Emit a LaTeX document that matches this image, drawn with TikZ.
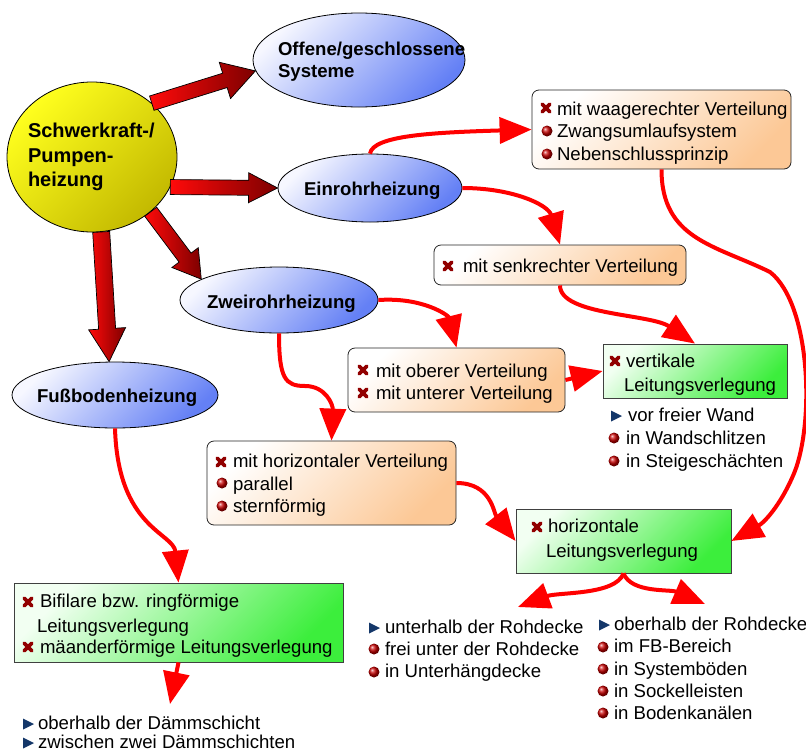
\documentclass[tikz,border=0pt]{standalone}
\usepackage{fontspec}
\setmainfont{Liberation Sans}
\usetikzlibrary{calc,arrows.meta,shapes.geometric}

\definecolor{arrred}{RGB}{255,10,10}
\definecolor{arrdark}{RGB}{125,0,0}
\definecolor{crossred}{RGB}{145,0,0}
\definecolor{navyic}{RGB}{20,55,105}
\definecolor{ellw}{RGB}{246,247,255}
\definecolor{ellb}{RGB}{100,128,245}
\definecolor{orng}{RGB}{252,200,150}
\definecolor{grnw}{RGB}{242,255,242}
\definecolor{grn}{RGB}{60,238,60}
\definecolor{yel1}{RGB}{255,255,30}
\definecolor{yel2}{RGB}{195,185,0}
\definecolor{ballred}{RGB}{200,0,0}

\newcommand\mkcross[2]{\draw[crossred,line width=3.6pt,line cap=round] (#1,#2) +(-3.8,-3.8) -- +(3.8,3.8) +(-3.8,3.8) -- +(3.8,-3.8);}
\newcommand\mkball[2]{\shade[ball color=ballred] (#1,#2) circle (5.5pt);}
\newcommand\mktri[2]{\fill[navyic] (#1,#2) +(-5,-5.5) -- +(6,0) -- +(-5,5.5) -- cycle;}
% start, tip, shaft half width, head half width, head length, name
\newcommand\mkbig[6]{%
  \coordinate (#6h) at ($(#2)!#5pt!(#1)$);
  \path[bigar] ($(#1)!#3pt!90:(#2)$) -- ($(#6h)!#3pt!90:(#2)$) -- ($(#6h)!#4pt!90:(#2)$) -- (#2)
     -- ($(#6h)!#4pt!-90:(#2)$) -- ($(#6h)!#3pt!-90:(#2)$) -- ($(#1)!#3pt!-90:(#2)$) -- cycle;}

\begin{document}
\begin{tikzpicture}[x=1pt,y=-1pt,
  txt/.style={anchor=base west, inner sep=0pt, outer sep=0pt, font=\fontsize{18.6}{22}\selectfont, text=black},
  btxt/.style={anchor=base west, inner sep=0pt, outer sep=0pt, font=\bfseries\fontsize{18.6}{22}\selectfont, text=black},
  ctxt/.style={anchor=base west, inner sep=0pt, outer sep=0pt, font=\bfseries\fontsize{20}{24}\selectfont, text=black},
  ellnode/.style={ellipse, draw=black, line width=0.8pt, inner sep=0pt, left color=ellw, right color=ellb, shading angle=45},
  circnode/.style={ellipse, draw=black, line width=0.8pt, inner sep=0pt, left color=yel1, right color=yel2, shading angle=45},
  obox/.style={rectangle, rounded corners=7pt, draw=black!85, line width=0.8pt, inner sep=0pt, left color=white, right color=orng, shading angle=45},
  gbox/.style={rectangle, draw=black!75, line width=0.8pt, inner sep=0pt, left color=grnw, right color=grn, shading angle=45},
  conn/.style={draw=red, line width=4pt, -{Triangle[length=32pt,width=26pt]}},
  bigar/.style={draw=black, line width=0.7pt, line join=miter, left color=arrred, right color=arrdark}
]
\path[use as bounding box, fill=white] (0,0) rectangle (806,753);

% ---- main nodes
\node[circnode, minimum width=170pt, minimum height=150pt] (sk) at (92,157) {};
\node[ctxt] (sk1) at (28,137) {Schwerkraft-/};
\node[ctxt] (sk2) at (28,162) {Pumpen-};
\node[ctxt] (sk3) at (28,186) {heizung};

\node[ellnode, minimum width=212pt, minimum height=94pt] (off) at (359,60) {};
\node[btxt] (off1) at (278,55) {Offene/geschlossene};
\node[btxt] (off2) at (278,77) {Systeme};

\node[ellnode, minimum width=184pt, minimum height=68pt] (ein) at (370,188) {};
\node[btxt] (eint) at (304,195) {Einrohrheizung};

\node[ellnode, minimum width=198pt, minimum height=66pt] (zwei) at (279,300) {};
\node[btxt] (zweit) at (207,308) {Zweirohrheizung};

\node[ellnode, minimum width=206pt, minimum height=66pt] (fuss) at (115,395) {};
\node[btxt] (fusst) at (37,402) {Fußbodenheizung};

% ---- boxes
\node[obox, minimum width=259pt, minimum height=79pt] (box1) at (661.5,129.5) {};
\mkcross{546}{108}\node[txt] (b1a) at (557,115) {mit waagerechter Verteilung};
\mkball{547}{131}\node[txt] (b1b) at (557,137) {Zwangsumlaufsystem};
\mkball{547}{154}\node[txt] (b1c) at (557,160) {Nebenschlussprinzip};

\node[obox, minimum width=252pt, minimum height=40pt] (box2) at (560,265) {};
\mkcross{448}{266}\node[txt] (b2a) at (463,272) {mit senkrechter Verteilung};

\node[obox, minimum width=217pt, minimum height=64pt] (box3) at (456.5,380) {};
\mkcross{363}{370}\node[txt] (b3a) at (376,377) {mit oberer Verteilung};
\mkcross{363}{393}\node[txt] (b3b) at (376,399) {mit unterer Verteilung};

\node[gbox, minimum width=184pt, minimum height=54pt] (vert) at (695,371) {};
\mkcross{615}{361}\node[txt] (v1) at (626,367) {vertikale};
\node[txt] (v2) at (624,391) {Leitungsverlegung};

\mktri{616}{416}\node[txt] (v3) at (628,421) {vor freier Wand};
\mkball{614}{438}\node[txt] (v4) at (626,444) {in Wandschlitzen};
\mkball{614}{461}\node[txt] (v5) at (626,467) {in Steigeschächten};

\node[obox, minimum width=249pt, minimum height=84pt] (box4) at (331.5,483) {};
\mkcross{221}{462}\node[txt] (b4a) at (233,467) {mit horizontaler Verteilung};
\mkball{222}{483}\node[txt] (b4b) at (233,490) {parallel};
\mkball{222}{506}\node[txt] (b4c) at (233,512) {sternförmig};

\node[gbox, minimum width=215pt, minimum height=64pt] (hor) at (623.5,541) {};
\mkcross{537}{527}\node[txt] (h1) at (548,532) {horizontale};
\node[txt] (h2) at (546,557) {Leitungsverlegung};

\node[gbox, minimum width=329pt, minimum height=79pt] (bif) at (178.5,622.5) {};
\mkcross{28}{602}\node[txt] (f1) at (40,607) {Bifilare bzw. ringförmige};
\node[txt] (f2) at (37,632) {Leitungsverlegung};
\mkcross{28}{647}\node[txt] (f3) at (40,653) {mäanderförmige Leitungsverlegung};

% ---- free lists
\mktri{28}{724}\node[txt] (d1) at (38,729) {oberhalb der Dämmschicht};
\mktri{28}{743}\node[txt] (d2) at (38,748) {zwischen zwei Dämmschichten};

\mktri{374}{628}\node[txt] (u1) at (385,633) {unterhalb der Rohdecke};
\mkball{374}{649}\node[txt] (u2) at (385,655) {frei unter der Rohdecke};
\mkball{374}{672}\node[txt] (u3) at (385,677) {in Unterhängdecke};

\mktri{604}{625}\node[txt] (o1) at (614,630) {oberhalb der Rohdecke};
\mkball{603}{647}\node[txt] (o2) at (614,652) {im FB-Bereich};
\mkball{603}{669}\node[txt] (o3) at (614,675) {in Systemböden};
\mkball{603}{691}\node[txt] (o4) at (614,697) {in Sockelleisten};
\mkball{603}{713}\node[txt] (o5) at (614,719) {in Bodenkanälen};

% ---- big block arrows
\mkbig{sk.42}{off.186}{7.5}{19}{32}{ba}
\mkbig{sk.-21}{ein.west}{7.5}{15}{29}{bb}
\mkbig{sk.-43}{zwei.165}{7.5}{16.5}{27}{bc}
\mkbig{sk.-83}{fuss.100}{8.5}{18.5}{33}{bd}

% ---- thin connectors
\draw[conn] (ein.north) .. controls +(3,-18) and +(-100,3) .. (box1.west);
\draw[conn] (ein.east) .. controls +(50,0) and +(-12,-40) .. (box2.north);
\draw[conn] (box1.south) .. controls +(0,70) and (715,245) .. (770,272)
   .. controls (812,305) and (815,430) .. (792,478)
   .. controls (780,505) and (765,522) .. (hor.east);
\draw[conn] (box2.south) .. controls +(0,30) and +(-45,-30) .. (vert.north);
\draw[conn] (zwei.east) .. controls +(45,-3) and +(-8,-32) .. (box3.north);
\draw[conn] (box3.east) -- (vert.west);
\draw[conn] (zwei.south) .. controls +(0,45) and (285,386) .. (305,386)
   .. controls (326,386) and (333,405) .. (box4.north);
\draw[conn] (box4.east) .. controls +(35,0) and +(-22,-28) .. (hor.west);
\draw[conn] (fuss.south) .. controls +(3,100) and +(-5,-50) .. (bif.north);
\coordinate (bifend) at (170,704);
\draw[conn] (bif.south) -- (bifend);
\coordinate (kl) at (518,607);
\coordinate (kr) at (705,604);
\draw[conn] (hor.south) .. controls +(-8,22) and +(40,-15) .. (kl);
\draw[conn] (hor.south) .. controls +(8,20) and +(-35,-15) .. (kr);
\end{tikzpicture}
\end{document}
